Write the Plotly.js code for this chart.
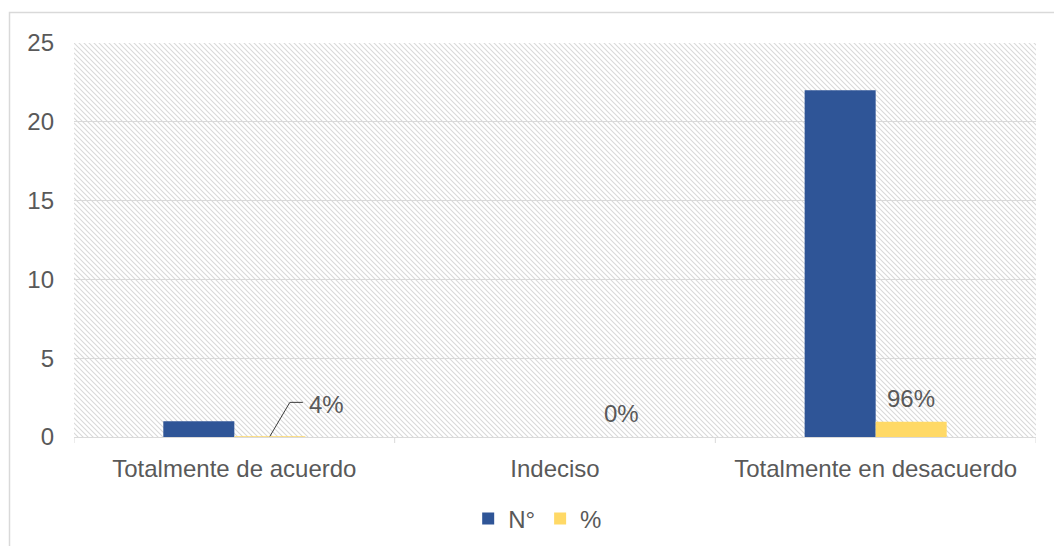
<!DOCTYPE html>
<html>
<head>
<meta charset="utf-8">
<script src="https://cdn.plot.ly/plotly-3.0.1.min.js"></script>
<style>
  html, body { margin: 0; padding: 0; background: #ffffff; }
  #chart { width: 1054px; height: 546px; }
</style>
</head>
<body>
<div id="chart"></div>
<script>
// Survey answers: count of respondents and share of the total
const categories = ['Totalmente de acuerdo', 'Indeciso', 'Totalmente en desacuerdo'];
const countValues = [1, 0, 22];
const shareValues = [0.04, 0, 0.96];
const seriesNames = ['N°', '%'];
const yTicks = [0, 5, 10, 15, 20, 25];

// Styling
const BLUE = '#2F5597';
const YELLOW = '#FFD966';
const TEXT = '#595959';
const GRID = '#d9d9d9';
const FONT = 'Liberation Sans, Arial, sans-serif';
const FS = 24;

const W = 1054, H = 546;
const M = { l: 74, r: 18, t: 43, b: 109, autoexpand: false };
const plotW = W - M.l - M.r;
const plotH = H - M.t - M.b;

// Bar group geometry (in category units)
const GROUP = 0.443;
const BAR = GROUP / 2;
const shareOffset = BAR / 2;   // centre of the second bar in a group

// Diagonal hatch for the plot area background
const hatch =
  '<svg xmlns="http://www.w3.org/2000/svg" width="' + plotW + '" height="' + plotH + '" viewBox="0 0 ' + plotW + ' ' + plotH + '">' +
  '<defs><pattern id="p" width="5" height="5" patternUnits="userSpaceOnUse">' +
  '<path d="M-1,-1 L6,6 M-1,4 L1,6 M4,-1 L6,1" stroke="#d9d9d9" stroke-width="1.1" fill="none"/>' +
  '</pattern></defs><rect width="100%" height="100%" fill="url(#p)"/></svg>';
const hatchURI = 'data:image/svg+xml;charset=utf-8,' + encodeURIComponent(hatch);

const xIdx = categories.map((_, i) => i);

const traces = [
  {
    type: 'bar',
    name: seriesNames[0],
    x: xIdx,
    y: countValues,
    marker: { color: BLUE },
    hoverinfo: 'skip'
  },
  {
    type: 'bar',
    name: seriesNames[1],
    x: xIdx,
    y: shareValues,
    marker: { color: YELLOW },
    hoverinfo: 'skip'
  }
];

// Percentage labels, offsets in pixels from each yellow bar's top
const labelShift = [[57, 32], [31, 24], [0, 23]];
const annotations = shareValues.map((v, i) => ({
  x: i + shareOffset,
  y: v,
  xref: 'x',
  yref: 'y',
  text: Math.round(v * 100) + '%',
  showarrow: false,
  xshift: labelShift[i][0],
  yshift: labelShift[i][1],
  font: { family: FONT, size: FS, color: TEXT }
}));

// Leader line for the first label
const shapes = [
  {
    type: 'path',
    xref: 'x', yref: 'y',
    xsizemode: 'pixel', ysizemode: 'pixel',
    xanchor: 0 + shareOffset,
    yanchor: shareValues[0],
    path: 'M0,0 L20,34 L33,34',
    line: { color: '#3a3a3a', width: 1 }
  },
  // outer chart frame
  {
    type: 'rect',
    xref: 'paper', yref: 'paper',
    x0: (9.5 - M.l) / plotW,
    x1: (W + 10 - M.l) / plotW,
    y0: -(H + 10 - M.t - plotH) / plotH,
    y1: (H - M.b - 12.5) / plotH,
    line: { color: '#d9d9d9', width: 1.5 },
    layer: 'below'
  }
];

const layout = {
  width: W,
  height: H,
  margin: M,
  paper_bgcolor: '#ffffff',
  plot_bgcolor: 'rgba(0,0,0,0)',
  font: { family: FONT, size: FS, color: TEXT },
  barmode: 'group',
  bargap: 1 - GROUP,
  bargroupgap: 0,
  showlegend: true,
  legend: {
    orientation: 'h',
    x: 0.482,
    xanchor: 'center',
    y: -0.208,
    yanchor: 'middle',
    font: { family: FONT, size: FS, color: TEXT },
    itemwidth: 30,
    traceorder: 'normal'
  },
  xaxis: {
    type: 'linear',
    range: [-0.5, categories.length - 0.5],
    tickmode: 'array',
    tickvals: xIdx,
    ticktext: categories,
    showgrid: false,
    zeroline: false,
    showline: true,
    linecolor: GRID,
    linewidth: 1,
    ticks: '',
    tickfont: { family: FONT, size: FS, color: TEXT },
    ticklabelstandoff: 10,
    fixedrange: true
  },
  yaxis: {
    range: [0, 25],
    tickmode: 'array',
    tickvals: yTicks,
    ticktext: yTicks.map(String),
    showgrid: true,
    gridcolor: GRID,
    gridwidth: 1,
    zeroline: false,
    showline: false,
    ticks: '',
    tickfont: { family: FONT, size: FS, color: TEXT },
    ticklabelstandoff: 19,
    fixedrange: true
  },
  images: [
    {
      source: hatchURI,
      xref: 'paper', yref: 'paper',
      x: 0, y: 1,
      sizex: 1, sizey: 1,
      xanchor: 'left', yanchor: 'top',
      sizing: 'stretch',
      layer: 'below'
    }
  ],
  annotations: annotations,
  shapes: shapes.concat(
    // category boundary tick marks under the axis
    [0, 1, 2, 3].map(k => ({
      type: 'line',
      xref: 'x', yref: 'paper',
      x0: k - 0.5, x1: k - 0.5,
      y0: 0, y1: -6 / plotH,
      line: { color: GRID, width: 1 }
    }))
  )
};

Plotly.newPlot('chart', traces, layout, { displayModeBar: false, staticPlot: true });
</script>
</body>
</html>
